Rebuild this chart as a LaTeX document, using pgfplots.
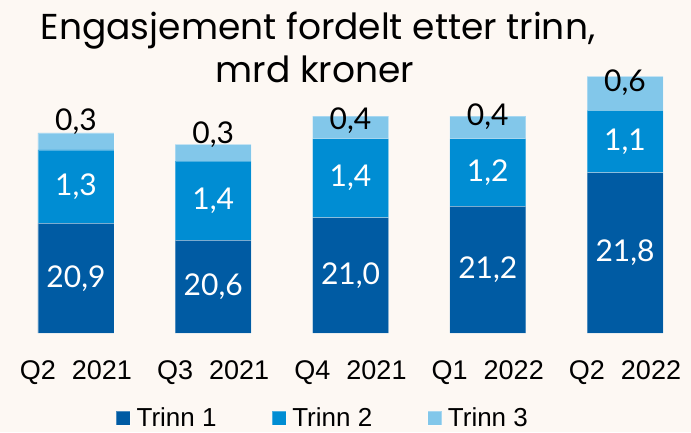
\documentclass[border=0pt]{standalone}
\usepackage{pgfplots}
\pgfplotsset{compat=1.18}
\usepackage{pgfplotstable}
\usepackage{fontspec}
\setmainfont{Lato}
\newfontfamily\tickfont{Liberation Sans}
\newfontfamily\labfont{Lato}
\newfontfamily\titlefont{Poppins}
\definecolor{bg}{RGB}{253,248,243}
\definecolor{tA}{RGB}{0,91,163}
\definecolor{tB}{RGB}{0,141,211}
\definecolor{tC}{RGB}{130,199,234}

\pgfplotstableread{
x t1 t2 t3 l1 l2 l3 d3
0 20.9 1.3 0.3 20,9 1,3 0,3 20
1 20.6 1.4 0.3 20,6 1,4 0,3 18
2 21.0 1.4 0.4 21,0 1,4 0,4 7
3 21.2 1.2 0.4 21,2 1,2 0,4 11
4 21.8 1.1 0.6 21,8 1,1 0,6 11
}\data

\begin{document}
\begin{tikzpicture}
\fill[bg] (0,0) rectangle (691pt,432pt);
\node[anchor=base, font=\titlefont\fontsize{36}{36}\selectfont] at (318pt,392pt) {Engasjement fordelt etter trinn,};
\node[anchor=base, font=\titlefont\fontsize{36}{36}\selectfont] at (315pt,349pt) {mrd kroner};
\begin{axis}[
  at={(0.5pt,99pt)}, anchor=south west,
  scale only axis, width=690.4pt, height=333pt,
  xmin=-0.55, xmax=4.48, ymin=18.96, ymax=24.854,
  ybar stacked, bar width=76pt,
  axis line style={draw=none}, tick style={draw=none},
  ytick=\empty,
  xtick={0,1,2,3,4},
  xticklabels={Q2\hspace{16pt}2021,Q3\hspace{16pt}2021,Q4\hspace{16pt}2021,Q1\hspace{16pt}2022,Q2\hspace{16pt}2022},
  xticklabel style={font=\tickfont\fontsize{27}{27}\selectfont, anchor=base, yshift=-46pt},
  legend columns=3,
  legend style={draw=none, fill=none, at={(0.467,-0.256)}, anchor=center,
    font=\tickfont\fontsize{26}{26}\selectfont,
    /tikz/every even column/.append style={column sep=53pt}},
  legend image code/.code={\fill[#1] (0pt,-7pt) rectangle (14pt,7pt); \path (18pt,0pt);},
  point meta=explicit symbolic,
  nodes near coords,
]
\addplot[fill=tA, draw=white, draw opacity=0.3, line width=0.7pt,
  every node near coord/.append style={anchor=center, text=white, font=\labfont\fontsize{30}{30}\selectfont, yshift=535.62pt}]
  table[x=x, y=t1, meta=l1] {\data};
\addlegendentry{Trinn 1}
\addplot[fill=tB, draw=white, draw opacity=0.3, line width=0.7pt,
  every node near coord/.append style={anchor=center, text=white, font=\labfont\fontsize{30}{30}\selectfont}]
  table[x=x, y=t2, meta=l2] {\data};
\addlegendentry{Trinn 2}
\addplot[fill=tC, draw=white, draw opacity=0.3, line width=0.7pt,
  visualization depends on={\thisrow{d3} \as \valC},
  every node near coord/.append style={anchor=center, text=black, font=\labfont\fontsize{30}{30}\selectfont, yshift={\valC*1pt}}]
  table[x=x, y=t3, meta=l3] {\data};
\addlegendentry{Trinn 3}
\end{axis}
\pgfresetboundingbox
\path (0,0) rectangle (691pt,432pt);
\end{tikzpicture}
\end{document}
